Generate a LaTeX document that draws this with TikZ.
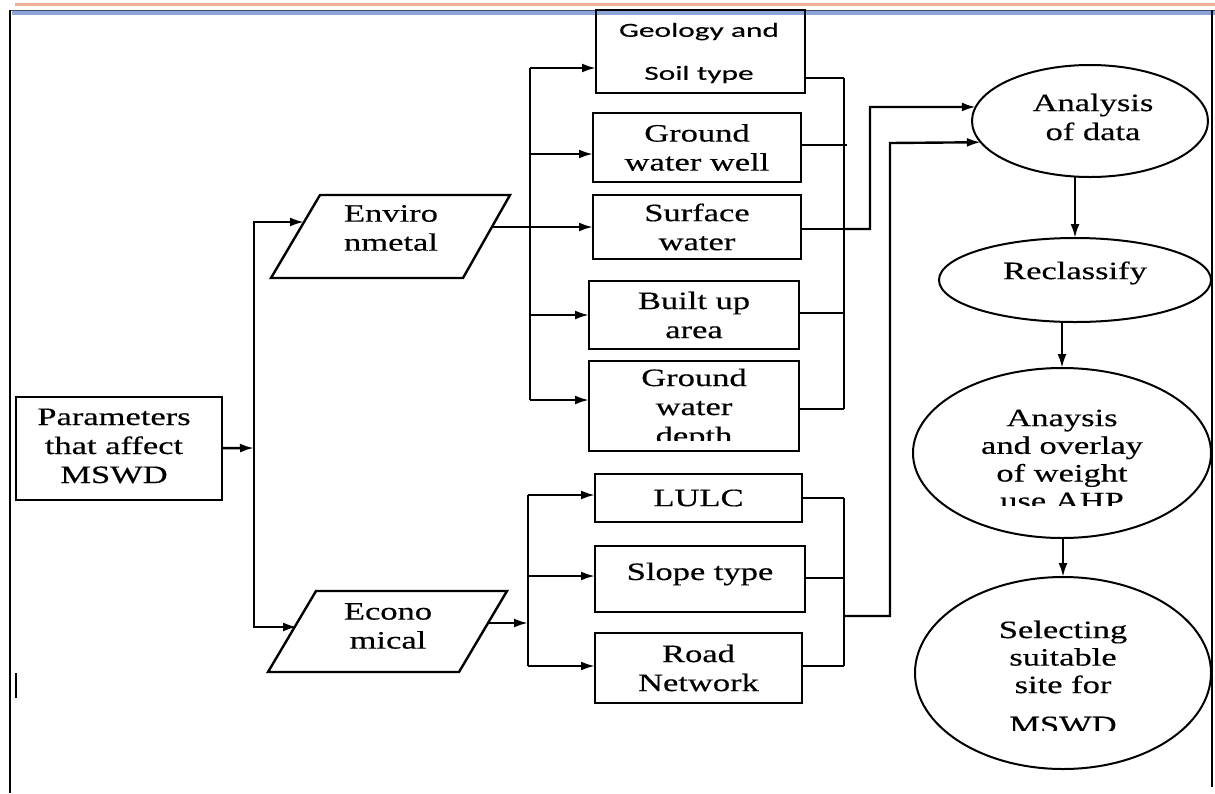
\documentclass[tikz,border=0pt]{standalone}
\usepackage{fontspec}
\usetikzlibrary{arrows.meta,shapes.geometric,calc}
\newfontfamily\srf{Liberation Serif}[FakeStretch=1.38,FakeBold=0.4]
\newfontfamily\snf{Carlito}[FakeStretch=1.57,FakeBold=0.3]
\definecolor{topor}{RGB}{240,178,148}
\definecolor{topbl}{RGB}{140,165,215}
\definecolor{topdk}{RGB}{60,75,110}
\begin{document}
\begin{tikzpicture}[x=1pt,y=-1pt,
  every node/.style={inner sep=0pt, outer sep=0pt},
  box/.style={draw, line width=2.4pt, rectangle},
  para/.style={draw, line width=2.4pt, line join=miter},
  oval/.style={draw, line width=2pt, ellipse},
  ln/.style={line width=2.4pt},
  arr/.style={line width=2.4pt, -{Latex[length=14pt,width=9pt]}},
  txt/.style={font=\srf\fontsize{25}{29}\selectfont, align=center},
  stxt/.style={font=\snf\fontsize{20}{43}\selectfont, align=center},
]
\useasboundingbox (0,0) rectangle (1215,793);
% page frame
\draw[line width=2.5pt, topor] (15,4.5) -- (1215,4.5);
\draw[line width=3.5pt, topbl] (12,13) -- (1215,13);
\draw[line width=1.6pt, topdk] (10,10.5) -- (1215,10.5);
\draw[line width=2.4pt] (10,10) -- (10,793);
\draw[line width=2.4pt] (1212,10) -- (1212,787);
\draw[line width=2.4pt] (16,673) -- (16,698);

% left column
\node[box, minimum width=206pt, minimum height=103pt] (par) at (119,448.5) {};
\node[txt] (tpar) at (114,446) {Parameters\\that affect\\MSWD};
% Environmetal parallelogram
\draw[para] (271,278) -- (320,195) -- (510,195) -- (463,278) -- cycle;
\node[txt] (env) at (391,228) {Enviro\\nmetal};
\coordinate (envin) at (304,222);
\coordinate (envout) at (492,227);
% Economical parallelogram
\draw[para] (268,672) -- (316,591) -- (507,591) -- (459,672) -- cycle;
\node[txt] (eco) at (388,626) {Econo\\mical};
\coordinate (ecoin) at (297,627);
\coordinate (ecoout) at (488,623);

% environmental boxes
\node[box, minimum width=209pt, minimum height=83pt] (geo) at (700.5,51.5) {};
\node[stxt] (tgeo) at (699,53) {Geology and\\Soil type};
\node[box, minimum width=208pt, minimum height=69pt, txt] (gww) at (697,147.5) {Ground\\water well};
\node[box, minimum width=208pt, minimum height=64pt, txt] (sw) at (697,227) {Surface\\water};
\node[box, minimum width=210pt, minimum height=68pt, txt] (bua) at (694,315) {Built up\\area};
\node[box, minimum width=210pt, minimum height=90pt] (gwd) at (694,406) {};
\begin{scope}
\clip (589,361) rectangle (799,440);
\node[txt] (tgwd) at (694,409) {Ground\\water\\depth};
\end{scope}

% economical boxes
\node[box, minimum width=207pt, minimum height=48pt, txt] (lulc) at (698.5,498) {LULC};
\node[box, minimum width=210pt, minimum height=66pt] (slope) at (700,579) {};
\node[txt] (tslope) at (700,574) {Slope type};
\node[box, minimum width=207pt, minimum height=70pt, txt] (road) at (698.5,668) {Road\\Network};

% right column
\node[oval, minimum width=236pt, minimum height=112pt] (ana) at (1090,121) {};
\node[txt] (tana) at (1093,117) {Analysis\\of data};
\node[oval, minimum width=272pt, minimum height=84pt] (rec) at (1075,280) {};
\node[txt] (trec) at (1075,273) {Reclassify};
\node[oval, minimum width=298pt, minimum height=170pt] (ovl) at (1062,453) {};
\begin{scope}
\clip (900,368) rectangle (1211,505);
\node[txt, font=\srf\fontsize{25}{27.7}\selectfont] (tovl) at (1062,459.5) {Anaysis\\and overlay\\of weight\\use AHP};
\end{scope}
\node[oval, minimum width=296pt, minimum height=192pt] (sel) at (1063,673) {};
\node[txt, font=\srf\fontsize{25}{27.5}\selectfont] (tsel) at (1063,657) {Selecting\\suitable\\site for};
\begin{scope}
\clip (950,700) rectangle (1180,730);
\node[txt] (tmswd) at (1063,725) {MSWD};
\end{scope}

% connectors: parameters to categories
\coordinate (pb) at (254,448);
\draw[arr] (par) -- (pb);
\draw[arr] (pb) |- (envin);
\draw[arr] (pb) |- (ecoin);

% environmental bus
\coordinate (lb1) at (530,68);
\coordinate (lb2) at (530,154);
\coordinate (lb4) at (530,315);
\coordinate (lb5) at (530,400);
\draw[ln] (lb1) -- (lb5);
\draw[arr] (lb1) -- (lb1 -| geo.west);
\draw[arr] (lb2) -- (lb2 -| gww.west);
\draw[arr] (envout) -- (envout -| sw.west);
\draw[arr] (lb4) -- (lb4 -| bua.west);
\draw[arr] (lb5) -- (lb5 -| gwd.west);

\coordinate (rb1) at (844,78);
\coordinate (rb2) at (847,145);
\coordinate (rb3) at (844,229);
\coordinate (rb4) at (844,313);
\coordinate (rb5) at (844,409);
\draw[ln] (rb1) -- (rb5);
\draw[ln] (geo.east |- rb1) -- (rb1);
\draw[ln] (gww.east |- rb2) -- (rb2);
\draw[ln] (sw.east |- rb3) -- (rb3);
\draw[ln] (bua.east |- rb4) -- (rb4);
\draw[ln] (gwd.east |- rb5) -- (rb5);
\coordinate (k1) at (870,107);
\draw[arr] (rb3) -| (k1) -- (ana.173);

% economical bus
\coordinate (eb0) at (528,623);
\coordinate (eb1) at (528,495);
\coordinate (eb2) at (528,576);
\coordinate (eb3) at (528,666);
\draw[arr] (ecoout) -- (eb0);
\draw[ln] (eb1) -- (eb3);
\draw[arr] (eb1) -- (eb1 -| lulc.west);
\draw[arr] (eb2) -- (eb2 -| slope.west);
\draw[arr] (eb3) -- (eb3 -| road.west);

\coordinate (rc1) at (844,498);
\coordinate (rc2) at (844,578);
\coordinate (rc3) at (844,666);
\coordinate (rc4) at (844,616);
\draw[ln] (rc1) -- (rc3);
\draw[ln] (lulc.east |- rc1) -- (rc1);
\draw[ln] (slope.east |- rc2) -- (rc2);
\draw[ln] (road.east |- rc3) -- (rc3);
\coordinate (k2) at (890,143);
\draw[arr] (rc4) -| (k2) -- (ana.191);

% right column flow
\draw[arr] (rec.north |- ana.south) -- (rec.north);
\draw[arr] (ovl.north |- rec.south) -- (ovl.north);
\draw[arr] (sel.north |- ovl.south) -- (sel.north);
\end{tikzpicture}
\end{document}
